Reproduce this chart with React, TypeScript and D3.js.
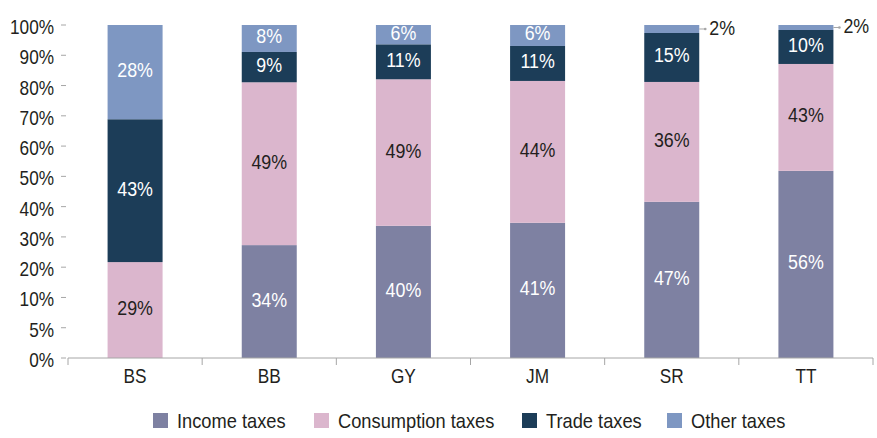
import React from 'react'
import * as d3 from 'd3'

// Tax revenue structure by country (share of total, %)
const categories = ['BS', 'BB', 'GY', 'JM', 'SR', 'TT']
const income = [0, 33.9, 39.7, 40.6, 46.9, 56.2]
const consumption = [28.8, 48.9, 44.0, 42.6, 36.0, 32.1]
const trade = [42.9, 9.1, 10.5, 10.5, 14.7, 10.2]
const other = [28.3, 8.1, 5.8, 6.3, 2.4, 1.5]

// data labels as printed on the chart
const incomeLabels = ['', '34%', '40%', '41%', '47%', '56%']
const consumptionLabels = ['29%', '49%', '49%', '44%', '36%', '43%']
const tradeLabels = ['43%', '9%', '11%', '11%', '15%', '10%']
const otherLabels = ['28%', '8%', '6%', '6%', '2%', '2%']

const seriesNames = ['Income taxes', 'Consumption taxes', 'Trade taxes', 'Other taxes']
const yTickLabels = ['0%', '5%', '10%', '20%', '30%', '40%', '50%', '60%', '70%', '80%', '90%', '100%']

const colors = ['#7e81a2', '#dbb6cd', '#1c3d58', '#7e97c2']
const labelColors = ['#ffffff', '#231f20', '#ffffff', '#ffffff']
const font = '"Liberation Sans", Arial, sans-serif'

// narrow-looking text: regular sans squeezed horizontally
const NText: React.FC<{
  x: number
  y: number
  anchor?: 'start' | 'middle' | 'end'
  fill?: string
  sx?: number
  children: React.ReactNode
}> = ({ x, y, anchor = 'start', fill = '#231f20', sx = 0.82, children }) => (
  <g transform={`translate(${x},${y}) scale(${sx},1)`}>
    <text x={0} y={0} textAnchor={anchor} fontSize={21} fill={fill}>
      {children}
    </text>
  </g>
)

const App: React.FC = () => {
  const width = 877
  const height = 438
  const margin = { top: 25, right: 4, bottom: 80, left: 68 }

  const keys = ['income', 'consumption', 'trade', 'other']
  const rows = categories.map((c, i) => ({
    cat: c,
    income: income[i],
    consumption: consumption[i],
    trade: trade[i],
    other: other[i],
  }))
  const labels = [incomeLabels, consumptionLabels, tradeLabels, otherLabels]

  const series = d3.stack<any>().keys(keys)(rows)

  const x = d3
    .scaleBand()
    .domain(categories)
    .range([margin.left, width - margin.right])
    .padding(0)
  const barW = 55

  const y = d3
    .scaleLinear()
    .domain([0, 100])
    .range([height - margin.bottom, margin.top])

  // the printed tick labels are spread evenly over the value range
  const tickVals = d3.range(yTickLabels.length).map((i) => (i * 100) / (yTickLabels.length - 1))

  const axisColor = '#a6a6a6'
  const y0 = y(0)

  return (
    <svg
      width={width}
      height={height}
      style={{ position: 'fixed', left: 0, top: 0, display: 'block', background: '#fff' }}
      fontFamily={font}
    >
      {/* y axis ticks */}
      {tickVals.map((v, i) => (
        <g key={'yt' + i}>
          <line x1={61} x2={66} y1={y(v)} y2={y(v)} stroke={axisColor} strokeWidth={1} />
          <NText x={54} y={y(v) + 9} anchor="end">
            {yTickLabels[i]}
          </NText>
        </g>
      ))}

      {/* bars */}
      {series.map((s, si) => (
        <g key={'s' + si}>
          {s.map((d, i) => {
            const cat = categories[i]
            const bx = (x(cat) as number) + (x.bandwidth() - barW) / 2
            const top = y(d[1])
            const bottom = y(d[0])
            const h = bottom - top
            const label = labels[si][i]
            const cy = (top + bottom) / 2
            const outside = h < 12
            return (
              <g key={cat}>
                {h > 0 && <rect x={bx} y={top} width={barW} height={h} fill={colors[si]} />}
                {label && !outside && (
                  <NText x={bx + barW / 2} y={cy + 5} anchor="middle" fill={labelColors[si]} sx={0.85}>
                    {label}
                  </NText>
                )}
                {label && outside && (
                  <g>
                    <line x1={bx + barW} x2={bx + barW + 6} y1={cy} y2={cy} stroke={axisColor} strokeWidth={1} />
                    <circle cx={bx + barW + 6} cy={cy} r={1.3} fill={axisColor} />
                    <NText x={bx + barW + 10} y={cy + 6} sx={0.85}>
                      {label}
                    </NText>
                  </g>
                )}
              </g>
            )
          })}
        </g>
      ))}

      {/* x axis */}
      <line x1={margin.left} x2={width - margin.right} y1={y0} y2={y0} stroke={axisColor} strokeWidth={1} />
      {d3.range(categories.length + 1).map((i) => {
        const px = margin.left + i * x.step()
        return <line key={'xt' + i} x1={px} x2={px} y1={y0} y2={y0 + 7} stroke={axisColor} strokeWidth={1} />
      })}
      {categories.map((c) => (
        <NText key={'xl' + c} x={(x(c) as number) + x.bandwidth() / 2} y={383} anchor="middle">
          {c}
        </NText>
      ))}

      {/* legend */}
      {seriesNames.map((name, i) => {
        const lx = [153, 314, 522, 667][i]
        return (
          <g key={'lg' + i}>
            <rect x={lx} y={413} width={15} height={15} fill={colors[i]} />
            <NText x={lx + 24} y={428} sx={0.87}>
              {name}
            </NText>
          </g>
        )
      })}
    </svg>
  )
}

export default App
